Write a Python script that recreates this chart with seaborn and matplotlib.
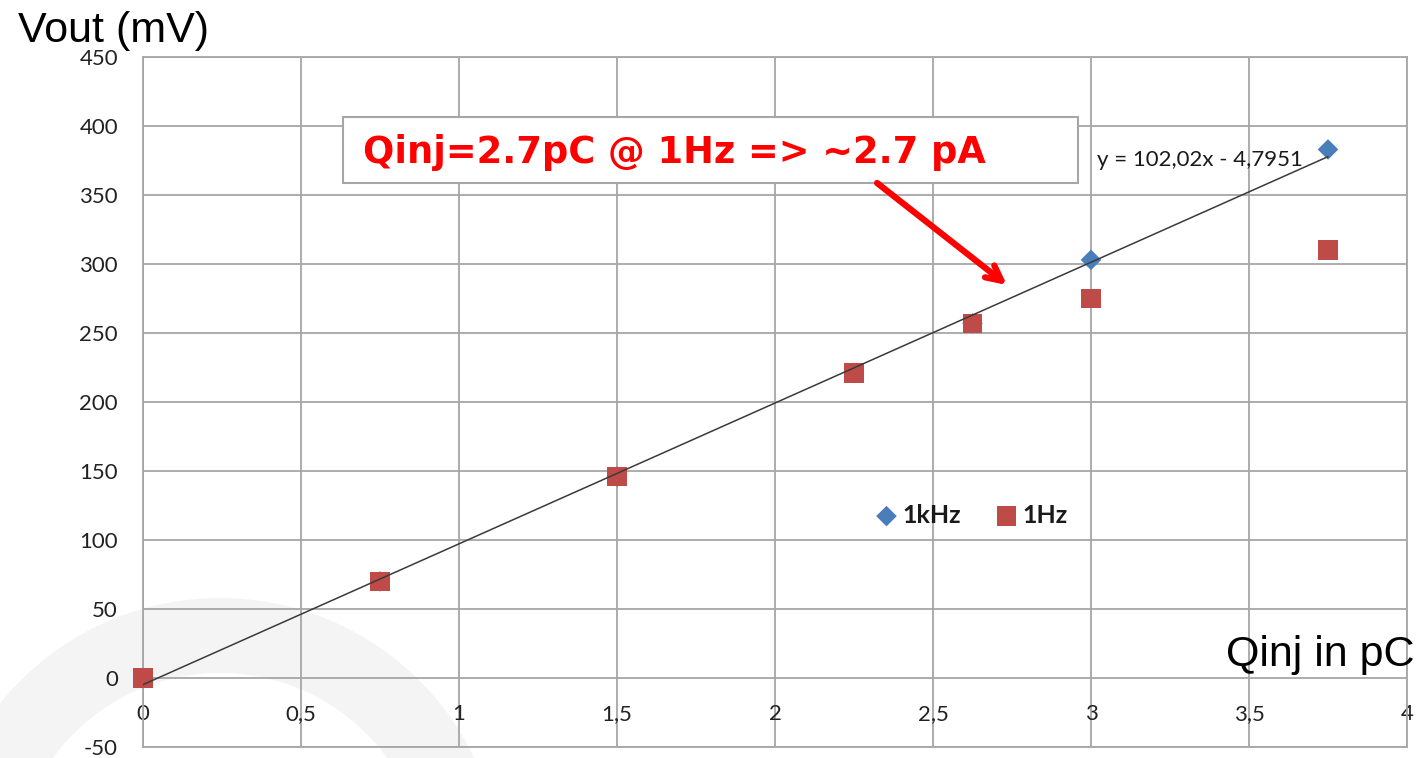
import numpy as np
import pandas as pd
import matplotlib
matplotlib.use("Agg")
import matplotlib.pyplot as plt
from matplotlib.patches import Rectangle, Wedge
import seaborn as sns

# measured points
qinj_1khz = [0, 0.75, 1.5, 2.25, 2.625, 3, 3.75]
vout_1khz = [0, 70, 146, 221, 257, 303, 383]
qinj_1hz = [0, 0.75, 1.5, 2.25, 2.625, 3, 3.75]
vout_1hz = [0, 70, 146, 221, 257, 275, 310]

# linear trendline shown on chart
fit_slope = 102.02
fit_intercept = -4.7951
fit_range = [0, 3.75]

x_ticks = [0, 0.5, 1, 1.5, 2, 2.5, 3, 3.5, 4]
x_tick_labels = ["0", "0,5", "1", "1,5", "2", "2,5", "3", "3,5", "4"]
y_ticks = [-50, 0, 50, 100, 150, 200, 250, 300, 350, 400, 450]

sns.set_theme(style="white")
plt.rcParams["font.family"] = ["Lato", "DejaVu Sans"]
plt.rcParams["axes.unicode_minus"] = False

fig = plt.figure(figsize=(14.23, 7.58), dpi=100)

# faint watermark ring behind the chart
bg = fig.add_axes([0, 0, 1, 1])
bg.set_xlim(0, 1423)
bg.set_ylim(758, 0)
bg.axis("off")
bg.add_patch(Wedge((220, 880), 282, 0, 360, width=75, color="#f4f4f4", lw=0))

ax = fig.add_axes([143 / 1423, 11 / 758, 1264 / 1423, 690 / 758])
ax.patch.set_alpha(0)

grid_c = "#a6a6a6"
sns.scatterplot(x=qinj_1khz, y=vout_1khz, marker="D", s=110, color="#4a7ebb",
                edgecolor="none", label="1kHz", ax=ax, zorder=3, clip_on=False)
sns.scatterplot(x=qinj_1hz, y=vout_1hz, marker="s", s=200, color="#be4b48",
                edgecolor="none", label="1Hz", ax=ax, zorder=4, clip_on=False)

fit_x = np.array(fit_range)
sns.lineplot(x=fit_x, y=fit_slope * fit_x + fit_intercept, color="#3a3a3a",
             lw=1.1, ax=ax, zorder=5, legend=False)

ax.set_xlim(0, 4)
ax.set_ylim(-50, 450)
ax.set_xticks(x_ticks)
ax.set_xticklabels(x_tick_labels)
ax.set_yticks(y_ticks)
ax.grid(True, color=grid_c, lw=1.3)
ax.set_axisbelow(True)
for side in ["top", "right", "left"]:
    ax.spines[side].set_color(grid_c)
    ax.spines[side].set_linewidth(1.3)
ax.spines["bottom"].set_position(("data", 0))
ax.spines["bottom"].set_visible(False)
ax.axhline(-50, color=grid_c, lw=1.3, clip_on=False)
ax.tick_params(axis="both", length=0, labelsize=16, colors="#222222")
ax.tick_params(axis="y", pad=18)
ax.tick_params(axis="x", pad=19)

leg = ax.legend(loc="center", bbox_to_anchor=(0.655, 0.336), ncol=2, frameon=False,
                prop={"size": 18, "weight": "bold"}, handletextpad=0.15,
                handlelength=1.0, columnspacing=1.3)
for t in leg.get_texts():
    t.set_color("#1a1a1a")

# annotation box and arrow
ax.add_patch(Rectangle((0.633, 358.7), 2.326, 47.8, facecolor="white",
                       edgecolor="#a6a6a6", lw=1.5, zorder=6, clip_on=False))
ax.text(0.696, 381, "Qinj=2.7pC @ 1Hz => ~2.7 pA", color="red", fontsize=26.5,
        fontweight="bold", family=["DejaVu Sans"],
        va="center", ha="left", zorder=7)
ax.annotate("", xy=(2.734, 284.8), xytext=(2.323, 358.7),
            arrowprops=dict(arrowstyle="->,head_length=0.9,head_width=0.45",
                            color="red", lw=4.5, shrinkA=0, shrinkB=0), zorder=7)

ax.text(3.019, 375, "y = 102,02x - 4,7951", fontsize=16, color="#1a1a1a",
        va="center", ha="left", zorder=7)

fig.text(18 / 1423, 1 - 31 / 758, "Vout (mV)", fontsize=31, color="black",
         family=["Liberation Sans", "DejaVu Sans"], va="center", ha="left")
fig.text(1415 / 1423, 1 - 655 / 758, "Qinj in pC", fontsize=31, color="black",
         family=["Liberation Sans", "DejaVu Sans"], va="center", ha="right")

fig.savefig("out.png", dpi=100)
